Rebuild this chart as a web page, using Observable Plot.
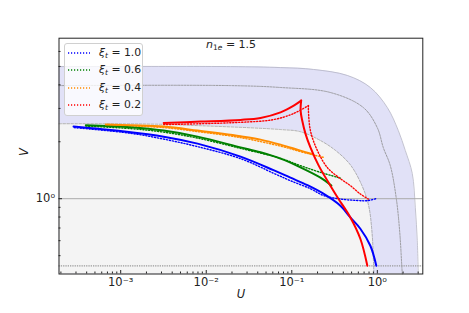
<!DOCTYPE html>
<html><head><meta charset="utf-8">
<script src="https://cdn.jsdelivr.net/npm/d3@7"></script>
<script src="https://cdn.jsdelivr.net/npm/@observablehq/plot@0.6"></script>
<style>
body{margin:0;background:#fff;font-family:"DejaVu Sans",sans-serif;}
#wrap{position:relative;width:469px;height:313px;}
#legend{position:absolute;left:64px;top:43px;width:79px;height:73px;border:1px solid #d0d0d0;border-radius:3px;background:rgba(255,255,255,0.8);box-sizing:border-box;}
.row{position:absolute;left:0;height:14px;}
.row svg{position:absolute;left:3px;top:5px;}
.row span.t{position:absolute;left:34px;top:0;font-size:10.8px;color:#222;white-space:nowrap;line-height:14px;}
sub{font-size:7.5px;vertical-align:-2px;}
#title{position:absolute;left:206px;top:38px;font-size:11px;color:#222;white-space:nowrap;}
</style></head>
<body><div id="wrap"></div>
<script>
// ---- data (U, V) ----
const xDomain = [1.9e-4, 3.4];
const yDomain = [0.4, 7.05];
const xMajor = [1e-3, 1e-2, 1e-1, 1];
const xTickLabels = ["10\u207B\u00B3", "10\u207B\u00B2", "10\u207B\u00B9", "10\u2070"];
const xMinor = [2e-4,3e-4,4e-4,5e-4,6e-4,7e-4,8e-4,9e-4,2e-3,3e-3,4e-3,5e-3,6e-3,7e-3,8e-3,9e-3,2e-2,3e-2,4e-2,5e-2,6e-2,7e-2,8e-2,9e-2,0.2,0.3,0.4,0.5,0.6,0.7,0.8,0.9,2,3];
const yMajor = [1];
const yTickLabels = ["10\u2070"];
const yMinor = [0.5,0.6,0.7,0.8,0.9,2,3,4,5,6];
const unityLine = [1];
const lowerLimit = [0.442];

const outerBoundary = [[1.9e-4,4.99],[0.0192,4.99],[0.0738,4.93],[0.179,4.82],[0.447,4.48],[0.829,3.87],[1.31,3.03],[1.76,2.29],[2.12,1.80],[2.56,1.36],[2.78,0.896],[2.93,0.60],[3.01,0.40]];
const middleCurve = [[1.9e-4,3.96],[0.0192,3.96],[0.0738,3.87],[0.283,3.64],[0.687,3.03],[1.0,2.37],[1.175,1.86],[1.418,1.495],[1.667,1.0],[1.83,0.661],[1.931,0.442],[1.958,0.40]];
const innerBoundary = [[1.9e-4,2.49],[2.24e-3,2.48],[8.59e-3,2.43],[0.033,2.37],[0.0738,2.32],[0.126,2.26],[0.216,2.03],[0.324,1.80],[0.484,1.51],[0.663,1.17],[0.792,0.918],[0.867,0.663],[0.905,0.442],[0.91,0.40]];

const xi10Solid = [[2.81e-4,2.404],[1.05e-3,2.27],[3.18e-3,2.128],[7.92e-3,1.954],[0.0252,1.668],[0.0611,1.415],[0.0964,1.291],[0.1524,1.179],[0.2343,1.063],[0.370,0.918],[0.484,0.796],[0.633,0.694],[0.829,0.564],[0.973,0.442]];
const xi10Dotted = [[2.86e-4,2.375],[1.31e-3,2.216],[3.18e-3,2.065],[7.92e-3,1.884],[0.0252,1.628],[0.0611,1.364],[0.0964,1.245],[0.1651,1.129],[0.2343,1.040],[0.370,0.996],[0.579,0.979],[0.759,0.976],[0.992,1.004]];
const xi06Solid = [[3.91e-4,2.443],[1.31e-3,2.384],[3.18e-3,2.290],[7.92e-3,2.128],[0.0252,1.867],[0.0431,1.758],[0.0738,1.628],[0.1262,1.464],[0.2162,1.291],[0.2904,1.172]];
const xi06Dotted = [[3.91e-4,2.419],[1.31e-3,2.346],[3.18e-3,2.248],[7.92e-3,2.090],[0.0252,1.845],[0.0738,1.635],[0.1262,1.495],[0.2162,1.378],[0.370,1.284]];
const xi04Solid = [[6.68e-4,2.464],[1.31e-3,2.443],[3.18e-3,2.404],[7.92e-3,2.290],[0.0252,2.136],[0.0431,2.052],[0.0738,1.931],[0.1262,1.795],[0.1729,1.724]];
const xi04Dotted = [[6.68e-4,2.448],[3.18e-3,2.375],[7.92e-3,2.262],[0.0252,2.102],[0.0738,1.896],[0.1262,1.773],[0.1729,1.709],[0.2343,1.654]];
const xi02SolidUpper = [[3.18e-3,2.515],[8.59e-3,2.555],[0.0252,2.609],[0.0431,2.673],[0.0738,2.861],[0.1054,3.105],[0.1287,3.300]];
const xi02SolidLower = [[0.1287,3.300],[0.1268,2.92],[0.1326,2.58],[0.1444,2.208],[0.1651,1.867],[0.2064,1.495],[0.2827,1.172],[0.3506,1.0],[0.484,0.796],[0.633,0.614],[0.7645,0.442]];
const xi02DottedUpper = [[3.18e-3,2.464],[0.0252,2.533],[0.0611,2.618],[0.1046,2.817],[0.1565,3.105]];
const xi02DottedLower = [[0.1565,3.105],[0.1565,2.922],[0.1651,2.290],[0.1994,1.795],[0.2609,1.459],[0.370,1.276],[0.484,1.172],[0.633,1.059],[0.785,0.996]];

const legendValues = ["1.0", "0.6", "0.4", "0.2"];
const seriesColors = ["#0000ff", "#008000", "#ff8c00", "#ff0000"];
const titleText = {base: "n", sub: "1e", value: "1.5"};

// ---- chart ----
const U = d => d[0], V = d => d[1];
const solidSets = [xi10Solid, xi06Solid, xi04Solid, xi02SolidUpper, xi02SolidLower];
const solidColors = [seriesColors[0], seriesColors[1], seriesColors[2], seriesColors[3], seriesColors[3]];
const dottedSets = [xi10Dotted, xi06Dotted, xi04Dotted, xi02DottedUpper, xi02DottedLower];

const marks = [
  Plot.areaY(outerBoundary, {x: U, y1: yDomain[0], y2: V, fill: "#e1e1f7", curve: "catmull-rom"}),
  Plot.areaY(innerBoundary, {x: U, y1: yDomain[0], y2: V, fill: "#f4f4f4", curve: "catmull-rom"}),
  Plot.line(outerBoundary, {x: U, y: V, stroke: "#b4b4c4", strokeWidth: 0.8, curve: "catmull-rom"}),
  Plot.line(middleCurve, {x: U, y: V, stroke: "#8a8a8a", strokeWidth: 0.8, strokeDasharray: "2,1.2", curve: "catmull-rom"}),
  Plot.line(innerBoundary, {x: U, y: V, stroke: "#a0a0a0", strokeWidth: 0.8, strokeDasharray: "2.5,1.5", curve: "catmull-rom"}),
  Plot.ruleY(unityLine, {stroke: "#aaaaaa", strokeWidth: 1}),
  Plot.ruleY(lowerLimit, {stroke: "#999999", strokeWidth: 1.3, strokeDasharray: "1.3,1"}),
];
dottedSets.forEach((s, i) => marks.push(Plot.line(s, {x: U, y: V, stroke: solidColors[i], strokeWidth: 1.4, strokeDasharray: "1.2,1.8", curve: "catmull-rom", clip: true})));
solidSets.forEach((s, i) => marks.push(Plot.line(s, {x: U, y: V, stroke: solidColors[i], strokeWidth: 2, curve: "catmull-rom", clip: true})));
marks.push(
  Plot.axisX(xMajor, {tickSize: -3.5, tickFormat: () => "", stroke: "#222", label: null}),
  Plot.axisX(xMinor, {tickSize: -2, tickFormat: () => "", stroke: "#222", label: null}),
  Plot.axisX(xMajor, {tickSize: 0, tickPadding: 3.5, tickFormat: d => xTickLabels[xMajor.indexOf(d)], fontSize: 11.5, fill: "#222", label: null}),
  Plot.axisY(yMajor, {tickSize: -3.5, tickFormat: () => "", stroke: "#222", label: null}),
  Plot.axisY(yMinor, {tickSize: -2, tickFormat: () => "", stroke: "#222", label: null}),
  Plot.axisY(yMajor, {tickSize: 0, tickPadding: 4, tickFormat: d => yTickLabels[yMajor.indexOf(d)], fontSize: 11.5, fill: "#222", label: null}),
  Plot.text(["U"], {frameAnchor: "bottom", dy: 24, text: d => d, fontStyle: "italic", fontSize: 11.5, fill: "#222"}),
  Plot.text(["V"], {frameAnchor: "left", dx: -35, rotate: -90, text: d => d, fontStyle: "italic", fontSize: 11.5, fill: "#222"}),
  Plot.frame({stroke: "#222", strokeWidth: 1})
);

const chart = Plot.plot({
  width: 469, height: 313,
  marginLeft: 58.5, marginRight: 46.7, marginTop: 37.7, marginBottom: 39.5,
  style: {fontFamily: "DejaVu Sans", fontSize: "10px", background: "#fff", overflow: "visible"},
  x: {type: "log", domain: xDomain},
  y: {type: "log", domain: yDomain},
  marks
});
const wrap = document.getElementById("wrap");
wrap.appendChild(chart);

// legend
const legend = document.createElement("div");
legend.id = "legend";
legendValues.forEach((v, i) => {
  const row = document.createElement("div");
  row.className = "row";
  row.style.top = (2 + i * 17.4) + "px";
  row.style.width = "100%";
  row.innerHTML = `<svg width="22" height="4"><line x1="0" y1="2" x2="22" y2="2" stroke="${seriesColors[i]}" stroke-width="1.4" stroke-dasharray="1.2,1.8"/></svg><span class="t"><i>\u03BE</i><sub><i>t</i></sub> = ${v}</span>`;
  legend.appendChild(row);
});
wrap.appendChild(legend);

const title = document.createElement("div");
title.id = "title";
title.innerHTML = `<i>${titleText.base}</i><sub>1<i>e</i></sub> = ${titleText.value}`;
wrap.appendChild(title);
</script>
</body></html>
